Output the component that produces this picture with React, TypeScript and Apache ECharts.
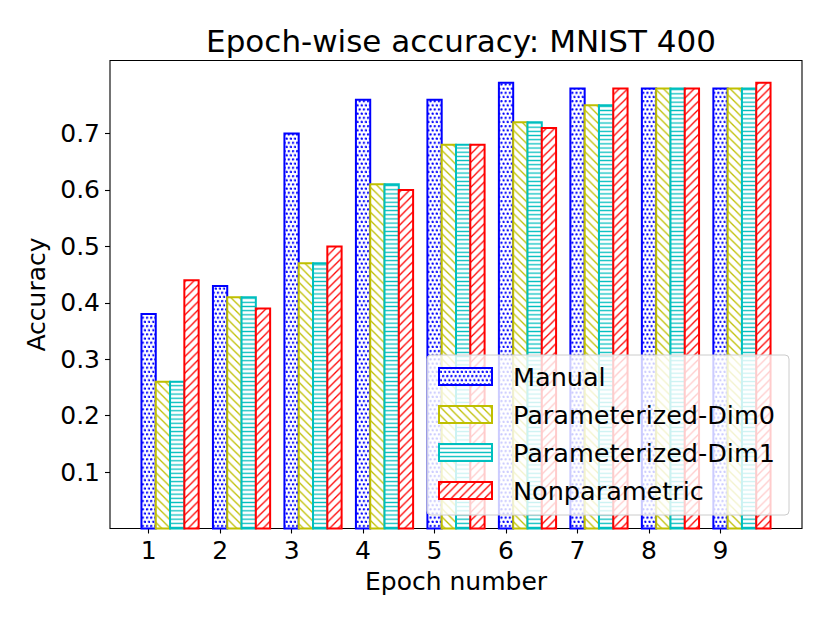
import React, { useEffect, useRef } from "react";
import * as echarts from "echarts";

const epochs = [1, 2, 3, 4, 5, 6, 7, 8, 9];
const seriesNames = ["Manual", "Parameterized-Dim0", "Parameterized-Dim1", "Nonparametric"];
const manual = [0.38, 0.43, 0.70, 0.76, 0.76, 0.79, 0.78, 0.78, 0.78];
const dim0 = [0.26, 0.41, 0.47, 0.61, 0.68, 0.72, 0.75, 0.78, 0.78];
const dim1 = [0.26, 0.41, 0.47, 0.61, 0.68, 0.72, 0.75, 0.78, 0.78];
const nonparam = [0.44, 0.39, 0.50, 0.60, 0.68, 0.71, 0.78, 0.78, 0.79];
const yTicks = [0.1, 0.2, 0.3, 0.4, 0.5, 0.6, 0.7];
const colors = ["#0000ff", "#bfbf00", "#00bfbf", "#ff0000"];

const FONT = "DejaVu Sans";

function svgUrl(w: number, h: number, body: string) {
  const s = `<svg xmlns='http://www.w3.org/2000/svg' width='${w}' height='${h}' viewBox='0 0 ${w} ${h}'>${body}</svg>`;
  return "data:image/svg+xml;charset=utf-8," + encodeURIComponent(s);
}

function makePattern(kind: number): any {
  if (kind === 0) {
    const w = 4.17, h = 8.33;
    const c = colors[0];
    const r = 1.2;
    const body =
      `<rect width='${w}' height='${h}' fill='#ffffff'/>` +
      `<circle cx='1.1' cy='1.2' r='${r}' fill='${c}'/>` +
      `<circle cx='${1.1 + w / 2}' cy='${1.2 + h / 2}' r='${r}' fill='${c}'/>` +
      `<circle cx='${1.1 + w}' cy='1.2' r='${r}' fill='${c}'/>` +
      `<circle cx='${1.1 - w}' cy='1.2' r='${r}' fill='${c}'/>`;
    return { image: svgUrl(w, h, body), repeat: "repeat", imageWidth: w, imageHeight: h };
  }
  if (kind === 2) {
    const w = 4.17, h = 4.17;
    const body =
      `<rect width='${w}' height='${h}' fill='#ffffff'/>` +
      `<line x1='0' y1='${h / 2}' x2='${w}' y2='${h / 2}' stroke='${colors[2]}' stroke-width='1.3'/>`;
    return { image: svgUrl(w, h, body), repeat: "repeat", imageWidth: w, imageHeight: h };
  }
  const s = 8.33;
  const c = colors[kind];
  let d = "";
  if (kind === 3) {
    d = `M0,${s} L${s},0 M-1,1 L1,-1 M${s - 1},${s + 1} L${s + 1},${s - 1}`;
  } else {
    d = `M0,0 L${s},${s} M${s - 1},-1 L${s + 1},1 M-1,${s - 1} L1,${s + 1}`;
  }
  const body =
    `<rect width='${s}' height='${s}' fill='#ffffff'/>` +
    `<path d='${d}' stroke='${c}' stroke-width='1.3' fill='none'/>`;
  return { image: svgUrl(s, s, body), repeat: "repeat", imageWidth: s, imageHeight: s };
}

export default function App() {
  const ref = useRef<HTMLDivElement>(null);
  useEffect(() => {
    document.body.style.margin = "0";
    const chart = echarts.init(ref.current!, null, { renderer: "svg" });
    const allValues = [manual, dim0, dim1, nonparam];
    const patterns = [0, 1, 2, 3].map((k) => makePattern(k));
    const barW = 0.2;

    const series = allValues.map((vals, si) => ({
      type: "custom",
      name: seriesNames[si],
      z: 2,
      data: epochs.map((e, i) => [e, vals[i]]),
      clip: false,
      renderItem: (params: any, api: any) => {
        const x = api.value(0) + si * barW;
        const v = api.value(1);
        const p0 = api.coord([x - barW / 2, v]);
        const p1 = api.coord([x + barW / 2, 0]);
        return {
          type: "rect",
          shape: { x: p0[0], y: p0[1], width: p1[0] - p0[0], height: p1[1] - p0[1] },
          style: { fill: patterns[si], stroke: colors[si], lineWidth: 2 },
        };
      },
    }));

    const legendX = 427, legendY = 355;
    const legendChildren: any[] = [
      {
        type: "rect",
        z: 100,
        shape: { x: legendX, y: legendY, width: 362, height: 160, r: 4 },
        style: { fill: "rgba(255,255,255,0.8)", stroke: "#cccccc", lineWidth: 1 },
      },
    ];
    seriesNames.forEach((n, i) => {
      const cy = 376.5 + i * 38;
      legendChildren.push({
        type: "rect",
        z: 101,
        shape: { x: 439, y: cy - 8.5, width: 53, height: 17 },
        style: { fill: patterns[i], stroke: colors[i], lineWidth: 2 },
      });
      legendChildren.push({
        type: "text",
        z: 101,
        x: 513,
        y: cy,
        style: {
          text: n,
          font: `25.5px '${FONT}'`,
          fill: "#000",
          verticalAlign: "middle",
          align: "left",
        },
      });
    });

    chart.setOption({
      animation: false,
      backgroundColor: "#ffffff",
      textStyle: { fontFamily: FONT },
      title: {
        text: "Epoch-wise accuracy: MNIST 400",
        left: 456,
        top: 20,
        textAlign: "center",
        textStyle: { fontFamily: FONT, fontSize: 31, fontWeight: "normal", color: "#000" },
      },
      grid: {
        left: 110,
        top: 60.5,
        width: 692,
        height: 468,
        show: true,
        borderColor: "#000",
        borderWidth: 1.1,
        backgroundColor: "transparent",
      },
      xAxis: {
        type: "value",
        min: 0.46,
        max: 10.14,
        name: "Epoch number",
        nameLocation: "middle",
        nameGap: 40,
        nameTextStyle: { fontFamily: FONT, fontSize: 25, color: "#000" },
        axisLine: { show: false },
        splitLine: { show: false },
        axisTick: {
          show: true,
          length: 5,
          lineStyle: { color: "#000", width: 1.1 },
          customValues: epochs,
        },
        axisLabel: {
          show: true,
          fontFamily: FONT,
          fontSize: 25,
          color: "#000",
          margin: 9,
          customValues: epochs,
          formatter: (v: number) => String(Math.round(v)),
        },
      },
      yAxis: {
        type: "value",
        min: 0,
        max: 0.8295,
        name: "Accuracy",
        nameLocation: "middle",
        nameGap: 56,
        nameRotate: 90,
        nameTextStyle: { fontFamily: FONT, fontSize: 25, color: "#000" },
        axisLine: { show: false },
        splitLine: { show: false },
        axisTick: {
          show: true,
          length: 5,
          lineStyle: { color: "#000", width: 1.1 },
          customValues: yTicks,
        },
        axisLabel: {
          show: true,
          fontFamily: FONT,
          fontSize: 25,
          color: "#000",
          margin: 10,
          customValues: yTicks,
          formatter: (v: number) => v.toFixed(1),
        },
      },
      series,
      graphic: [{ type: "group", children: legendChildren }],
    });
    return () => chart.dispose();
  }, []);
  return <div ref={ref} style={{ width: 830, height: 623 }} />;
}
